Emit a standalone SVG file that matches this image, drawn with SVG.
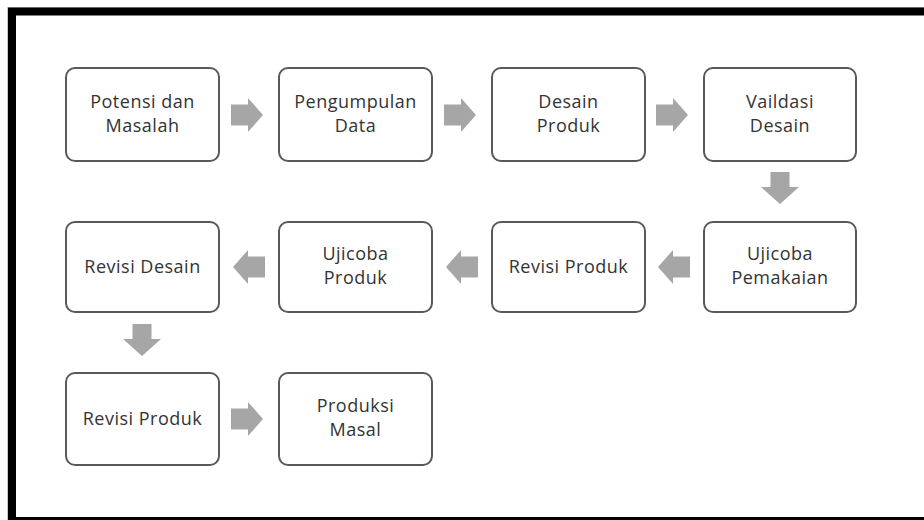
<svg xmlns="http://www.w3.org/2000/svg" width="924" height="520" viewBox="0 0 924 520">
<style>
.box{fill:#fff;stroke:#595959;stroke-width:2}
.t{font-family:"Open Sans","Noto Sans","DejaVu Sans",sans-serif;font-size:18px;letter-spacing:0.5px;fill:#333;text-anchor:middle}
.arr{fill:#a6a6a6}
</style>
<defs>
<path id="right" class="arr" d="M-16,-10.5 H1 V-17 L16,0 L1,17 V10.5 H-16 Z"/>
<path id="down" class="arr" d="M-9.5,-16 H9.5 V-1 H19 L0,16 L-19,-1 H-9.5 Z"/>
<path id="left" class="arr" d="M16,-10.5 H-1 V-17 L-16,0 L-1,17 V10.5 H16 Z"/>
</defs>
<rect x="0" y="0" width="924" height="520" fill="#fff"/>
<rect x="7.5" y="7.5" width="930" height="520" fill="none" stroke="#c8c8c8" stroke-width="1"/>
<rect x="12" y="11.5" width="920" height="509.5" fill="none" stroke="#000" stroke-width="8"/>
<g id="connectors">
<use href="#right" x="247" y="115"/>
<use href="#right" x="460" y="115"/>
<use href="#right" x="672" y="115"/>
<use href="#down" x="780" y="188"/>
<use href="#left" x="674" y="267"/>
<use href="#left" x="462" y="267"/>
<use href="#left" x="249" y="267"/>
<use href="#down" x="142" y="340"/>
<use href="#right" x="247" y="419"/>
</g>
<g id="n1"><rect class="box" x="66" y="68" width="153" height="93" rx="9"/><text class="t" x="142.5" y="108">Potensi dan</text><text class="t" x="142.5" y="132">Masalah</text></g>
<g id="n2"><rect class="box" x="279" y="68" width="153" height="93" rx="9"/><text class="t" x="355.5" y="108">Pengumpulan</text><text class="t" x="355.5" y="132">Data</text></g>
<g id="n3"><rect class="box" x="492" y="68" width="153" height="93" rx="9"/><text class="t" x="568.5" y="108">Desain</text><text class="t" x="568.5" y="132">Produk</text></g>
<g id="n4"><rect class="box" x="704" y="68" width="152" height="93" rx="9"/><text class="t" x="780" y="108">Vaildasi</text><text class="t" x="780" y="132">Desain</text></g>
<g id="n5"><rect class="box" x="704" y="222" width="152" height="90" rx="9"/><text class="t" x="780" y="260">Ujicoba</text><text class="t" x="780" y="284">Pemakaian</text></g>
<g id="n6"><rect class="box" x="492" y="222" width="153" height="90" rx="9"/><text class="t" x="568.5" y="273">Revisi Produk</text></g>
<g id="n7"><rect class="box" x="279" y="222" width="153" height="90" rx="9"/><text class="t" x="355.5" y="260">Ujicoba</text><text class="t" x="355.5" y="284">Produk</text></g>
<g id="n8"><rect class="box" x="66" y="222" width="153" height="90" rx="9"/><text class="t" x="142.5" y="273">Revisi Desain</text></g>
<g id="n9"><rect class="box" x="66" y="373" width="153" height="92" rx="9"/><text class="t" x="142.5" y="425">Revisi Produk</text></g>
<g id="n10"><rect class="box" x="279" y="373" width="153" height="92" rx="9"/><text class="t" x="355.5" y="412">Produksi</text><text class="t" x="355.5" y="436">Masal</text></g>
</svg>
